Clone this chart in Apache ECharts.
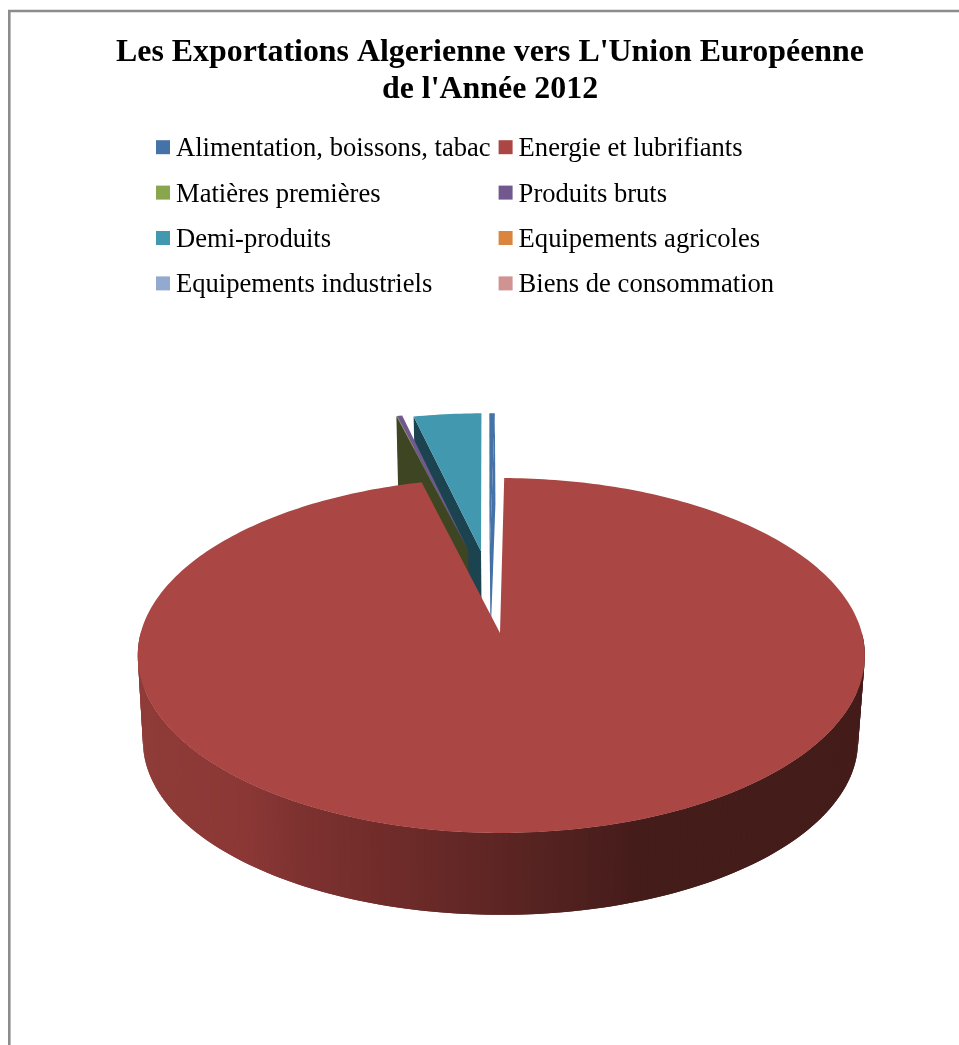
<!DOCTYPE html>
<html>
<head>
<meta charset="utf-8">
<style>html,body{margin:0;padding:0;background:#fff}#chart{width:959px;height:1045px}</style>
<script src="https://cdn.jsdelivr.net/npm/echarts@6/dist/echarts.min.js"></script>
</head>
<body>
<div id="chart"></div>
<script>
// Export shares by product family, percent of the total
const categories = ['Alimentation, boissons, tabac', 'Energie et lubrifiants', 'Matières premières', 'Produits bruts',
  'Demi-produits', 'Equipements agricoles', 'Equipements industriels', 'Biens de consommation'];
const shares = [0.29, 95.82, 0.03, 0.28, 3.58, 0, 0, 0];
const titleLines = ["Les Exportations Algerienne vers L'Union Européenne", "de l'Année 2012"];

const colors = ['#4572A7', '#AA4643', '#89A54E', '#71588F', '#4198AF', '#DB843D', '#93A9CF', '#D19392'];
const wallColors = ['#3a5f8c', '#451c1a', '#3e4522', '#3f3150', '#1c4450', '#7a4a22', '#5c6a82', '#755251'];

// Pulled-out position of each slice on the disc plane, in disc radii, relative to the large slice
const explode = [[-0.03, 0.497], [0, 0], [-0.094, 0.505], [-0.094, 0.505], [-0.056, 0.497], [0, 0.5], [0, 0.5], [0, 0.5]];
// Slices are painted far to near
const drawOrder = [4, 3, 2, 0, 5, 6, 7, 1];
const firstAngle = -0.3;

// Perspective of the disc: upper face and lower face
const view = {
  k: 0.1268,
  top: { cx: 500, cy: 633, a: 360.6, b: 174.6 },
  bottom: { cx: 500.5, cy: 719, a: 354.7, b: 171 }
};
const largeRimShift = 1.3;

// Shading of the large slice's rim, left to right across the page
const rimShade = [
  [140, [143, 60, 57]], [250, [138, 55, 53]], [300, [125, 50, 48]], [400, [110, 43, 41]],
  [520, [89, 36, 34]], [640, [68, 28, 26]], [870, [68, 28, 26]]
];

function shadeAt(x) {
  let i = 0;
  while (i < rimShade.length - 2 && x > rimShade[i + 1][0]) i++;
  const [x0, c0] = rimShade[i];
  const [x1, c1] = rimShade[i + 1];
  const t = Math.min(1, Math.max(0, (x - x0) / (x1 - x0)));
  const rgb = c0.map((v, j) => Math.round(v + (c1[j] - v) * t));
  return 'rgb(' + rgb.join(',') + ')';
}

function project(x, y, face) {
  const w = 1 + view.k * y;
  return [face.cx + face.a * x / w, face.cy - face.b * y / w];
}

function arcPoints(centre, from, to, face, shift) {
  const steps = Math.max(2, Math.ceil(to - from));
  const pts = [];
  for (let i = 0; i <= steps; i++) {
    const t = (from + (to - from) * i / steps) * Math.PI / 180;
    const p = project(centre[0] + Math.sin(t), centre[1] + Math.cos(t), face);
    // The sideways shift fades out towards the top so the radial edges stay on the tip
    pts.push([p[0] + shift * Math.min(1, Math.abs(Math.sin(t)) * 3), p[1]]);
  }
  return pts;
}

// Angular span of each slice, clockwise from the top
const total = shares.reduce((s, v) => s + v, 0);
let running = firstAngle;
const spans = shares.map(v => {
  const from = running;
  running += v / total * 360;
  return [from, running];
});

function polygon(points, fill) {
  return { type: 'polygon', shape: { points }, style: { fill, stroke: null }, silent: true };
}

function sliceShape(index, from, to) {
  if (to - from <= 0) return { type: 'group', children: [] };
  const c = explode[index];
  const large = index === 1;
  const topArc = arcPoints(c, from, to, view.top, large ? largeRimShift : 0);
  const lowArc = arcPoints(c, from, to, view.bottom, 0);
  const tipTop = project(c[0], c[1], view.top);
  const tipLow = project(c[0], c[1], view.bottom);
  const last = topArc.length - 1;
  const children = [];
  // The narrow slice at the top shows its right wall as well, facing the middle of the disc
  if (index === 0) children.push(polygon([tipTop, topArc[last], lowArc[last], tipLow], colors[0]));
  // Small slices show the radial wall under their left edge; the large one hides both of its own
  if (!large) children.push(polygon([tipTop, topArc[0], lowArc[0], tipLow], wallColors[index]));
  // The rim is a strip of overlapping narrow quads, only on the half that faces the viewer
  for (let i = 0; i < last; i++) {
    const angle = (from + (to - from) * (i + 0.5) / last) * Math.PI / 180;
    if (Math.cos(angle) > 0) continue;
    const next = Math.min(last, i + 2);
    const fill = large ? shadeAt((topArc[i][0] + topArc[i + 1][0]) / 2) : wallColors[index];
    children.push(polygon([topArc[i], topArc[next], lowArc[next], lowArc[i]], fill));
  }
  children.push(polygon([tipTop].concat(topArc), colors[index]));
  return { type: 'group', children };
}

const series = drawOrder.map(i => ({
  type: 'custom',
  name: categories[i],
  coordinateSystem: 'none',
  itemStyle: { color: colors[i] },
  animation: false,
  silent: true,
  data: [spans[i]],
  renderItem: (params, api) => sliceShape(i, api.value(0), api.value(1))
}));

const legendFont = { fontFamily: 'Liberation Serif', fontSize: 26.6, color: '#000' };
const legendBase = {
  orient: 'vertical', top: 135.7, icon: 'rect', itemWidth: 14, itemHeight: 14, itemGap: 18.4,
  selectedMode: false, padding: 0,
  formatter: '{t|{name}}',
  textStyle: Object.assign({}, legendFont, {
    rich: { t: Object.assign({}, legendFont, { padding: [4, 0, 0, 1] }) }
  })
};

const chart = echarts.init(document.getElementById('chart'), null, { renderer: 'canvas' });
chart.setOption({
  backgroundColor: '#fff',
  animation: false,
  title: {
    text: titleLines.join('\n'),
    left: 490, top: 34, textAlign: 'center', padding: 0,
    textStyle: { fontFamily: 'Liberation Serif', fontSize: 31.9, fontWeight: 'bold', color: '#000', lineHeight: 37 }
  },
  legend: [
    Object.assign({}, legendBase, { left: 156, data: categories.filter((_, i) => i % 2 === 0) }),
    Object.assign({}, legendBase, { left: 498.6, data: categories.filter((_, i) => i % 2 === 1) })
  ],
  graphic: [{
    type: 'polyline',
    shape: { points: [[9.3, 1045], [9.3, 11], [959, 11]] },
    style: { stroke: '#8c8c8c', lineWidth: 2.6, fill: null },
    silent: true
  }],
  series
});
</script>
</body>
</html>
